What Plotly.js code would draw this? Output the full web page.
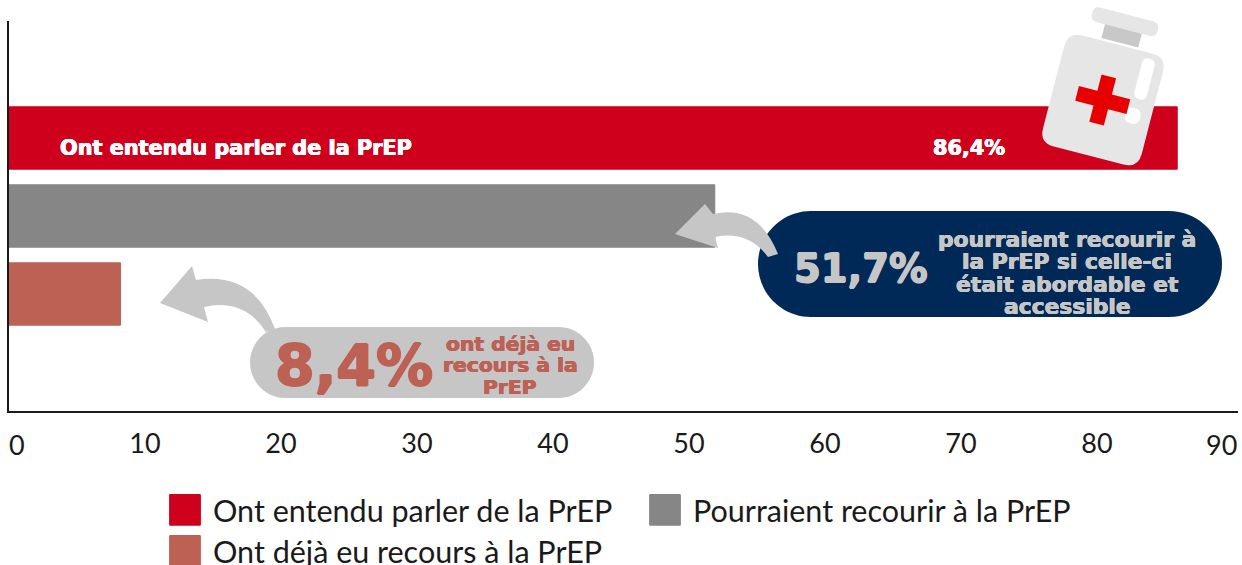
<!DOCTYPE html>
<html lang="fr">
<head>
<meta charset="utf-8">
<script src="https://cdn.plot.ly/plotly-3.0.1.min.js"></script>
<style>
html,body{margin:0;padding:0;background:#fff;overflow:hidden;height:565px}
#chart{width:1242px;height:565px;overflow:hidden}
.legendpoints path{transform:translate(28px,0) scale(2.45);stroke-linejoin:round}
</style>
</head>
<body>
<div id="chart"></div>
<script>
const seriesNames = ["Ont entendu parler de la PrEP", "Pourraient recourir à la PrEP", "Ont déjà eu recours à la PrEP"];
const seriesValues = [85.9, 51.9, 8.2];
const seriesColors = ["#CF001C", "#868686", "#BD6154"];
const categoryOrder = ["haut", "entendu", "pourraient", "recours", "bas"];
const seriesCategories = ["entendu", "pourraient", "recours"];
const tickValues = [10, 20, 30, 40, 50, 60, 70, 80];
const tickLabels = ["10", "20", "30", "40", "50", "60", "70", "80"];
const edgeTicks = [0, 90];

const W = 1242, H = 600;
const px = x => x / W, py = y => 1 - y / H;
const P = (x, y) => (x / W).toFixed(5) + "," + (1 - y / H).toFixed(5);

function rotRect(cx, cy, w, h, r, deg) {
  const a = deg * Math.PI / 180;
  const T = (u, v) => P(cx + u * Math.cos(a) - v * Math.sin(a), cy + u * Math.sin(a) + v * Math.cos(a));
  const hw = w / 2, hh = h / 2;
  if (!r) return "M" + T(-hw, -hh) + "L" + T(hw, -hh) + "L" + T(hw, hh) + "L" + T(-hw, hh) + "Z";
  return "M" + T(-hw + r, -hh) + "L" + T(hw - r, -hh) + "Q" + T(hw, -hh) + " " + T(hw, -hh + r) +
    "L" + T(hw, hh - r) + "Q" + T(hw, hh) + " " + T(hw - r, hh) +
    "L" + T(-hw + r, hh) + "Q" + T(-hw, hh) + " " + T(-hw, hh - r) +
    "L" + T(-hw, -hh + r) + "Q" + T(-hw, -hh) + " " + T(-hw + r, -hh) + "Z";
}
function pill(x0, y0, x1, y1) {
  const r = (y1 - y0) / 2, k = r * 0.5523;
  return "M" + P(x0 + r, y0) + "L" + P(x1 - r, y0) +
    "C" + P(x1 - r + k, y0) + " " + P(x1, y0 + r - k) + " " + P(x1, y0 + r) +
    "C" + P(x1, y0 + r + k) + " " + P(x1 - r + k, y1) + " " + P(x1 - r, y1) +
    "L" + P(x0 + r, y1) +
    "C" + P(x0 + r - k, y1) + " " + P(x0, y0 + r + k) + " " + P(x0, y0 + r) +
    "C" + P(x0, y0 + r - k) + " " + P(x0 + r - k, y0) + " " + P(x0 + r, y0) + "Z";
}
const shape = (path, color) => ({type: "path", xref: "paper", yref: "paper", path, fillcolor: color, line: {width: 0}, layer: "above"});

const arrowA = "M" + P(705, 204) + "L" + P(675, 234) + "L" + P(718, 248) + "L" + P(715, 237) +
  "Q" + P(748, 230) + " " + P(768, 257) + "L" + P(778, 254) + "Q" + P(758, 204) + " " + P(713, 214) + "Z";
const arrowB = "M" + P(192, 266) + "L" + P(160, 303) + "L" + P(208, 322) + "L" + P(204, 307) +
  "Q" + P(244, 298) + " " + P(266, 332) + "L" + P(275, 329) + "Q" + P(254, 271) + " " + P(196, 280) + "Z";

const shapes = [
  shape(pill(758, 211, 1222, 317), "#002957"),
  shape(pill(250, 327, 594, 398), "#C6C6C6"),
  shape(arrowA, "#C6C6C6"),
  shape(arrowB, "#C6C6C6"),
  shape(rotRect(1121.7, 35.5, 38, 15, 0, 14.5), "#C8C8C8"),
  shape(rotRect(1125, 21.7, 68, 15, 7, 14.5), "#E6E6E6"),
  shape(rotRect(1103, 100, 102, 114.5, 15, 14.5), "#E6E6E6"),
  shape(rotRect(1144.5, 79, 13, 42, 6.5, 14.5), "#FFFFFF"),
  shape(rotRect(1132.7, 115.7, 16, 16, 8, 14.5), "#FFFFFF"),
  shape(rotRect(1102.7, 100, 53, 15, 0, 14.5), "#E60000"),
  shape(rotRect(1102.7, 100, 15, 49, 0, 14.5), "#E60000")
];

const disp = "DejaVu Sans";
const note = (x, y, text, size, color, bold) => ({
  xref: "paper", yref: "paper", x: px(x), y: py(y), xanchor: "center", yanchor: "middle",
  text: "<b>" + text + "</b>", showarrow: false, align: "center",
  font: {family: disp, size, color, shadow: `${bold}px 0 0 ${color}, -${bold}px 0 0 ${color}, 0 ${bold}px 0 ${color}, 0 -${bold}px 0 ${color}`}
});
const tickNote = (v, shift) => ({
  xref: "x", yref: "paper", x: v, y: py(444), xshift: shift, xanchor: "center", yanchor: "middle",
  text: String(v), showarrow: false, font: {family: "Lato", size: 27, color: "#1a1a1a"}
});
const annotations = [
  note(236, 148, "Ont entendu parler de la PrEP", 20.8, "#FFFFFF", 0.4),
  note(969, 148, "86,4%", 20.8, "#FFFFFF", 0.4),
  note(861, 269, "51,7%", 38.5, "#C6C6C6", 0.7),
  note(1067, 239, "pourraient recourir à", 21.8, "#C6C6C6", 0.4),
  note(1067, 261, "la PrEP si celle-ci", 21.8, "#C6C6C6", 0.4),
  note(1067, 284, "était abordable et", 21.8, "#C6C6C6", 0.4),
  note(1067, 306, "accessible", 21.8, "#C6C6C6", 0.4),
  note(354, 366, "8,4%", 57, "#BD6154", 1),
  note(510, 344, "ont déjà eu", 20.3, "#BD6154", 0.4),
  note(510, 365, "recours à la", 20.3, "#BD6154", 0.4),
  note(510, 387, "PrEP", 20.3, "#BD6154", 0.4),
  tickNote(edgeTicks[0], 8),
  tickNote(edgeTicks[1], -11)
];

const traces = seriesNames.map((name, i) => ({
  type: "bar", orientation: "h", name,
  x: [seriesValues[i]], y: [seriesCategories[i]],
  width: 0.8,
  marker: {color: seriesColors[i], line: {color: seriesColors[i], width: 1}},
  hoverinfo: "x+name",
  legend: i === 2 ? "legend2" : "legend"
}));

const legendBase = {
  orientation: "h", xanchor: "left", yanchor: "middle", itemwidth: 46,
  bgcolor: "rgba(0,0,0,0)", font: {family: "Lato", size: 30.5, color: "#1a1a1a"},
  itemclick: false, itemdoubleclick: false
};

const layout = {
  width: W, height: H, autosize: false,
  margin: {l: 0, r: 0, t: 0, b: 0},
  paper_bgcolor: "#fff", plot_bgcolor: "#fff",
  barmode: "overlay", showlegend: true,
  xaxis: {
    domain: [px(9), px(1238)], range: [0, 90.37], automargin: false,
    tickmode: "array", tickvals: tickValues, ticktext: tickLabels,
    ticks: "", showgrid: false, zeroline: false, showline: true,
    linecolor: "#1a1a1a", linewidth: 2,
    tickfont: {family: "Lato", size: 27, color: "#1a1a1a"}, ticklabelstandoff: 8
  },
  yaxis: {
    domain: [py(411), py(21)], type: "category", categoryorder: "array", categoryarray: categoryOrder,
    range: [4.5, -0.5], automargin: false, showticklabels: false, ticks: "",
    showgrid: false, zeroline: false, showline: true, linecolor: "#1a1a1a", linewidth: 2
  },
  legend: Object.assign({}, legendBase, {x: px(157), y: py(510), entrywidth: 419, entrywidthmode: "pixels"}),
  legend2: Object.assign({}, legendBase, {x: px(157), y: py(551)}),
  shapes, annotations
};

Plotly.newPlot("chart", traces, layout, {displayModeBar: false, responsive: false});
</script>
</body>
</html>
